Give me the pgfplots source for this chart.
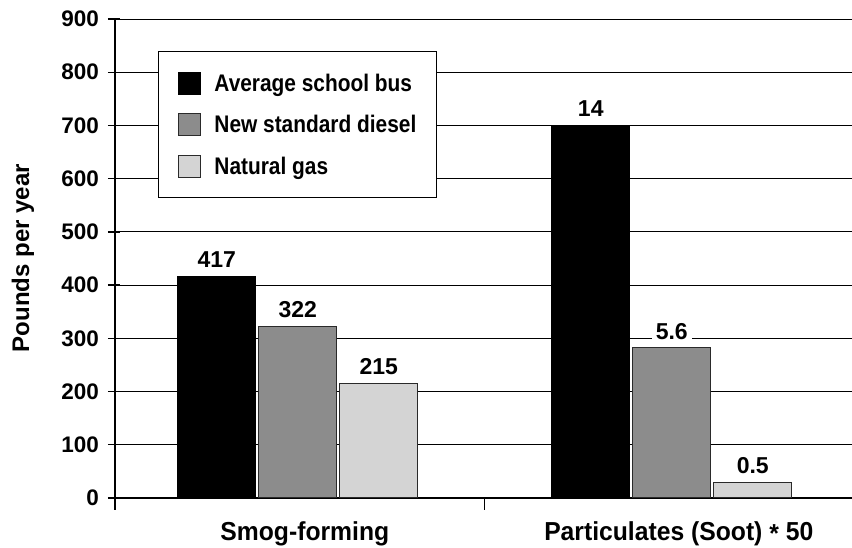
\documentclass[border=0pt]{standalone}
\usepackage{fontspec}
\setmainfont{Liberation Sans}
\newfontfamily\condfont{Liberation Sans}[FakeStretch=0.87]
\newfontfamily\xfont{Liberation Sans}[FakeStretch=0.95]
\usepackage{pgfplots}
\usepackage{pgfplotstable}
\pgfplotsset{compat=1.18}
\definecolor{midgray}{HTML}{8C8C8C}
\definecolor{lightgray2}{HTML}{D4D4D4}
\definecolor{edgegray}{HTML}{2A2A2A}

\pgfplotstableread{
x y label
0 417 417
1 700 14
}\busdata
\pgfplotstableread{
x y label
0 322 322
1 282 5.6
}\dieseldata
\pgfplotstableread{
x y label
0 215 215
1 30 0.5
}\gasdata

\pgfplotsset{mylegend/.style={legend image code/.code={\draw[##1] (0pt,-3pt) rectangle (22pt,19pt);}}}

\begin{document}
\begin{tikzpicture}
\begin{axis}[
  at={(115pt,50pt)}, anchor=south west,
  scale only axis, width=737pt, height=479pt,
  xmin=-0.489, xmax=1.482, ymin=0, ymax=900,
  axis x line*=bottom, axis y line*=left,
  axis line style={line width=1.5pt, black},
  ybar=3pt, bar width=78pt,
  ytick={0,100,...,900},
  ymajorgrids, grid style={black, line width=0.9pt},
  tick align=outside,
  major tick length=12pt,
  tick style={black, line width=1.3pt},
  ytick style={xshift=5pt},
  xtick={-0.489,0.5}, xticklabels={},
  extra x ticks={0,1},
  extra x tick labels={Smog-forming, Particulates (Soot) \raisebox{-2pt}{*} 50},
  extra x tick style={major tick length=0pt},
  xticklabel style={font=\xfont\bfseries\fontsize{26}{26}\selectfont, inner sep=0pt, text height=19pt, text depth=5pt, anchor=north, yshift=-23pt, xshift=7pt},
  /pgf/number format/assume math mode=true,
  yticklabel style={font=\bfseries\fontsize{22.5}{22.5}\selectfont, inner sep=0pt, anchor=east, xshift=-4pt},
  ylabel={Pounds per year},
  every axis y label/.style={at={(axis description cs:-0.1248,0.501)}, rotate=90, anchor=center, font=\bfseries\fontsize{24}{24}\selectfont},
  nodes near coords,
  point meta=explicit symbolic,
  every node near coord/.append style={font=\bfseries\fontsize{23}{23}\selectfont, fill=white, inner xsep=4pt, inner ysep=2pt, anchor=south, yshift=6pt, text=black},
  legend style={at={(axis description cs:0.0583,0.933)}, anchor=north west, draw=black, line width=1pt, fill=white, inner xsep=20pt, inner ysep=20pt, row sep=18.5pt, font=\condfont\bfseries\fontsize{24}{24}\selectfont, nodes={inner sep=0pt, text height=19pt, text depth=3pt, anchor=base west}, /tikz/every odd column/.append style={column sep=13pt}},
  legend cell align=left,
]
\addplot[fill=black, draw=black, line width=1pt, mylegend] table[x=x,y=y,meta=label]{\busdata};
\addplot[fill=midgray, draw=edgegray, line width=1pt, mylegend] table[x=x,y=y,meta=label]{\dieseldata};
\addplot[fill=lightgray2, draw=edgegray, line width=1pt, mylegend] table[x=x,y=y,meta=label]{\gasdata};
\legend{Average school bus, New standard diesel, Natural gas}
\end{axis}
\pgfresetboundingbox
\path[use as bounding box] (0,0) rectangle (852pt,548pt);
\end{tikzpicture}
\end{document}
